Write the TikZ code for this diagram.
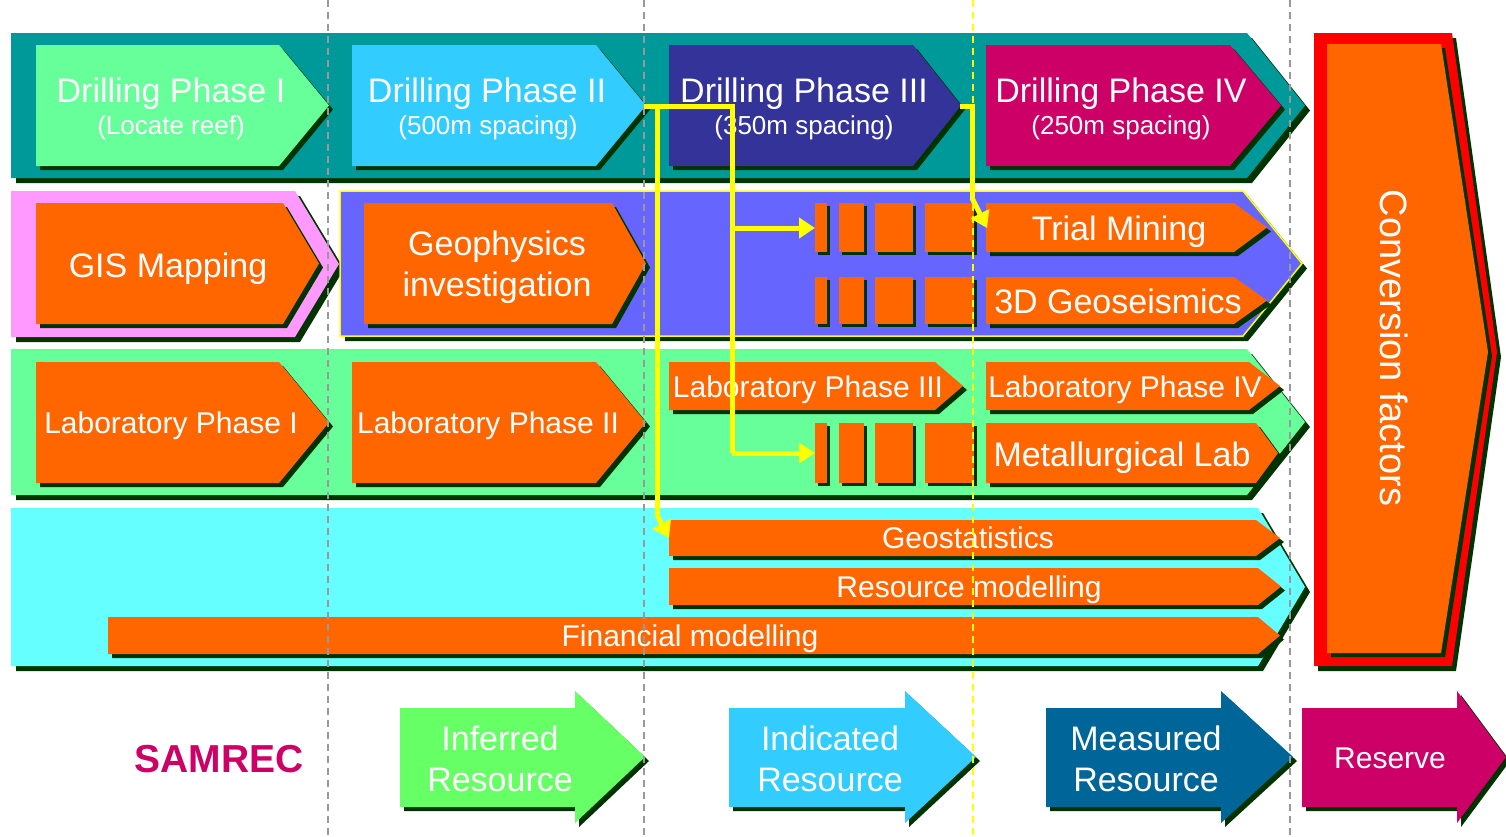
\documentclass[tikz,border=0pt]{standalone}
\usepackage{fontspec}
\setmainfont{Liberation Sans}
\usetikzlibrary{arrows.meta,calc}
\definecolor{shd}{HTML}{003300}
\definecolor{tealband}{HTML}{009999}
\definecolor{dgreen}{HTML}{66FF99}
\definecolor{dcyan}{HTML}{33CCFF}
\definecolor{dnavy}{HTML}{333399}
\definecolor{dmag}{HTML}{CC0066}
\definecolor{pinkband}{HTML}{FF99FF}
\definecolor{blueband}{HTML}{6666FF}
\definecolor{orng}{HTML}{FF6600}
\definecolor{greenband}{HTML}{66FF99}
\definecolor{cyanband}{HTML}{66FFFF}
\definecolor{redc}{HTML}{FF0000}
\definecolor{infgreen}{HTML}{66FF66}
\definecolor{measblue}{HTML}{006699}
\definecolor{yel}{HTML}{FFFF00}
\definecolor{guidegray}{HTML}{999999}
% chevron: x1 y1 x2 y2 xtip colour shadow-offset
\newcommand\chev[7]{%
  \fill[shd,shift={(#7,#7)}] (#1,#2) -- (#3,#2) -- (#5,{(#2+#4)/2}) -- (#3,#4) -- (#1,#4) -- cycle;
  \fill[#6] (#1,#2) -- (#3,#2) -- (#5,{(#2+#4)/2}) -- (#3,#4) -- (#1,#4) -- cycle;}
% block: x1 y1 x2 y2
\newcommand\blk[4]{%
  \fill[shd,shift={(3,3)}] (#1,#2) rectangle (#3,#4);
  \fill[orng] (#1,#2) rectangle (#3,#4);}
% big arrow: x1 headx tip colour
\newcommand\bigarrow[4]{%
  \fill[shd,shift={(4,4)}] (#1,708) -- (#2,708) -- (#2,691) -- (#3,757) -- (#2,823) -- (#2,807) -- (#1,807) -- cycle;
  \fill[#4] (#1,708) -- (#2,708) -- (#2,691) -- (#3,757) -- (#2,823) -- (#2,807) -- (#1,807) -- cycle;}
\begin{document}
\begin{tikzpicture}[x=1pt,y=-1pt,
  bigtxt/.style={text=white,font=\fontsize{34}{40}\selectfont,inner sep=0pt,anchor=base},
  labtxt/.style={text=white,font=\fontsize{30}{36}\selectfont,inner sep=0pt,anchor=base},
  bartxt/.style={text=white,font=\fontsize{30}{34}\selectfont,inner sep=0pt,anchor=base},
  subtxt/.style={text=white,font=\fontsize{26}{30}\selectfont,inner sep=0pt,anchor=base},
  conn/.style={draw=yel,line width=5pt},
  connarrow/.style={conn,-{Triangle[length=16pt,width=20pt]}},
  guide/.style={draw=guidegray,line width=2.2pt,dash pattern=on 7pt off 5pt},
  yguide/.style={draw=yel,line width=2.2pt,dash pattern=on 7pt off 5pt},
]
\useasboundingbox (0,0) rectangle (1506,836);
\fill[white] (0,0) rectangle (1506,836);

% ---------- bands ----------
\chev{11}{33}{1247}{178}{1305}{tealband}{5}
\chev{11}{191}{295}{337}{339}{pinkband}{5}
\chev{340}{191}{1243}{336}{1302}{blueband}{5}
\draw[yel,line width=1.5pt] (340,191) -- (1243,191) -- (1302,263.5) -- (1243,336) -- (340,336) -- cycle;
\chev{11}{349}{1247}{495}{1305}{greenband}{5}
\chev{11}{508}{1258}{666}{1305}{cyanband}{5}

% ---------- drilling ----------
\chev{36}{45}{279}{166}{329}{dgreen}{4}
\chev{352}{45}{596}{166}{646}{dcyan}{4}
\chev{669}{45}{913}{166}{961}{dnavy}{4}
\chev{986}{45}{1230}{166}{1281}{dmag}{4}

% ---------- row 2 ----------
\chev{36}{203}{283}{324}{319}{orng}{4}
\chev{364}{203}{612}{324}{646}{orng}{4}
\chev{986}{203}{1234}{252}{1267}{orng}{4}
\chev{986}{277}{1234}{324}{1267}{orng}{4}
\blk{815}{203}{827}{252}\blk{839}{203}{864}{252}\blk{875}{203}{913}{252}\blk{925}{203}{974}{252}
\blk{815}{277}{827}{324}\blk{839}{277}{864}{324}\blk{875}{277}{913}{324}\blk{925}{277}{974}{324}

% ---------- row 3 ----------
\chev{36}{362}{279}{483}{329}{orng}{4}
\chev{352}{362}{596}{483}{646}{orng}{4}
\chev{669}{362}{935}{410}{963}{orng}{4}
\chev{986}{362}{1249}{410}{1280}{orng}{4}
\chev{986}{423}{1256}{483}{1278}{orng}{4}
\blk{815}{423}{827}{483}\blk{839}{423}{864}{483}\blk{875}{423}{913}{483}\blk{925}{423}{974}{483}

% ---------- row 4 ----------
\chev{669}{520}{1256}{556}{1280}{orng}{4}
\chev{669}{568}{1258}{605}{1281}{orng}{4}
\chev{108}{617}{1258}{654}{1280}{orng}{4}

% ---------- conversion factors ----------
\fill[shd,shift={(4,5)}] (1314,33) -- (1452,33) -- (1497,352) -- (1452,666) -- (1314,666) -- cycle;
\fill[redc] (1314,33) -- (1452,33) -- (1497,352) -- (1452,666) -- (1314,666) -- cycle;
\fill[shd,shift={(4,4)}] (1327,44) -- (1441,44) -- (1488,352) -- (1441,653) -- (1327,653) -- cycle;
\fill[orng] (1327,44) -- (1441,44) -- (1488,352) -- (1441,653) -- (1327,653) -- cycle;
\node[rotate=-90,text=white,font=\fontsize{38}{44}\selectfont,inner sep=0pt] (conv) at (1394,348) {Conversion factors};

% ---------- bottom arrows ----------
\bigarrow{400}{575}{645}{infgreen}
\bigarrow{729}{905}{976}{dcyan}
\bigarrow{1046}{1221}{1293}{measblue}
\bigarrow{1302}{1457}{1506}{dmag}

% ---------- texts ----------
\node[bigtxt] (d1) at (171,102) {Drilling Phase I};
\node[subtxt] (d1s) at (171,134) {(Locate reef)};
\node[bigtxt] (d2) at (487,102) {Drilling Phase II};
\node[subtxt] (d2s) at (488,134) {(500m spacing)};
\node[bigtxt] (d3) at (804,102) {Drilling Phase III};
\node[subtxt] (d3s) at (804,134) {(350m spacing)};
\node[bigtxt] (d4) at (1121,102) {Drilling Phase IV};
\node[subtxt] (d4s) at (1121,134) {(250m spacing)};

\node[bigtxt] (gis) at (168,277) {GIS Mapping};
\node[bigtxt] (geo1) at (497,255) {Geophysics};
\node[bigtxt] (geo2) at (497,296) {investigation};
\node[bigtxt] (trial) at (1119,240) {Trial Mining};
\node[bigtxt] (seis) at (1118,313) {3D Geoseismics};

\node[labtxt] (lab1) at (171,433) {Laboratory Phase I};
\node[labtxt] (lab2) at (488,433) {Laboratory Phase II};
\node[labtxt] (lab3) at (808,397) {Laboratory Phase III};
\node[labtxt] (lab4) at (1125,397) {Laboratory Phase IV};
\node[bigtxt] (met) at (1122,466) {Metallurgical Lab};

\node[bartxt] (gstat) at (968,548) {Geostatistics};
\node[bartxt] (resm) at (969,597) {Resource modelling};
\node[bartxt] (finm) at (690,646) {Financial modelling};

\node[text=dmag,font=\fontsize{39}{44}\selectfont\bfseries,inner sep=0pt,anchor=base] (samrec) at (219,772) {SAMREC};
\node[bigtxt] (inf1) at (500,750) {Inferred};
\node[bigtxt] (inf2) at (500,791) {Resource};
\node[bigtxt] (ind1) at (830,750) {Indicated};
\node[bigtxt] (ind2) at (830,791) {Resource};
\node[bigtxt] (mea1) at (1146,750) {Measured};
\node[bigtxt] (mea2) at (1146,791) {Resource};
\node[labtxt] (res) at (1390,768) {Reserve};

% ---------- guide lines ----------
\coordinate (g1t) at (328,0); \coordinate (g1b) at (328,836);
\coordinate (g2t) at (644,0); \coordinate (g2b) at (644,836);
\coordinate (g3t) at (1290,0); \coordinate (g3b) at (1290,836);
\coordinate (g4t) at (973,0); \coordinate (g4b) at (973,836);
\draw[guide] (g1t) -- (g1b);
\draw[guide] (g2t) -- (g2b);
\draw[guide] (g3t) -- (g3b);
\draw[yguide] (g4t) -- (g4b);

% ---------- yellow connectors ----------
\coordinate (d2tip) at (644,106);
\coordinate (d3tip) at (960,106);
\coordinate (ja) at (732,106);
\coordinate (jb) at (657,106);
\coordinate (blkA) at (815,228);
\coordinate (blkC) at (815,453);
\coordinate (gstatin) at (669,538);
\coordinate (trialin) at (987,228);
\draw[conn] (d2tip) -- (ja) -- (732,453);
\draw[connarrow] (732,228) -- (blkA);
\draw[connarrow] (732,453) -- (blkC);
\draw[conn] (jb) -- (657,518);
\draw[connarrow] (657,515) -- (gstatin);
\draw[conn] (d3tip) -- (972,106) -- (972,200);
\draw[connarrow] (972,198) -- (trialin);
\end{tikzpicture}
\end{document}
